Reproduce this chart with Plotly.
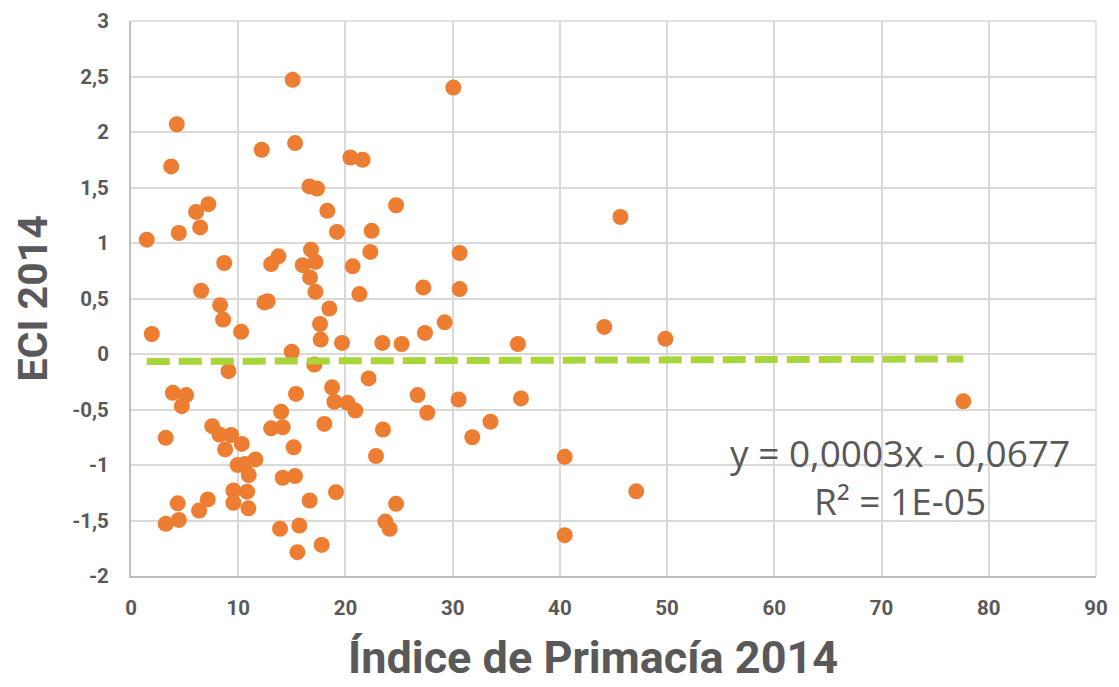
import plotly.graph_objects as go

# Índice de Primacía 2014 (x) vs ECI 2014 (y)
primacia = [15.08, 4.27, 3.75, 12.19, 15.3, 20.46, 21.6, 16.64, 17.35, 18.31,
            7.22, 6.07, 6.45, 4.46, 1.47, 19.21, 22.44, 16.79, 22.32, 13.75,
            13.07, 8.69, 16.01, 17.2, 16.7, 20.67, 6.54, 17.2, 21.3, 12.44,
            12.75, 8.31, 18.5, 8.59, 17.63, 1.94, 10.27, 17.69, 19.68, 23.44,
            25.24, 14.99, 30.06, 24.72, 30.65, 30.65, 27.26, 29.25, 27.42, 36.08,
            9.09, 17.1, 3.9, 5.14, 4.74, 15.39, 18.75, 18.97, 20.2, 20.92,
            22.16, 14.0, 13.07, 14.15, 7.57, 8.25, 9.34, 3.24, 8.78, 10.33,
            18.03, 15.17, 9.95, 10.64, 11.6, 10.98, 14.15, 15.3, 19.12, 16.66,
            9.55, 10.83, 9.55, 10.95, 4.36, 7.16, 6.35, 4.46, 3.24, 13.9,
            15.7, 15.52, 17.78, 22.85, 26.73, 27.63, 30.55, 36.37, 33.53, 31.83,
            23.5, 24.72, 23.72, 24.12, 45.65, 44.14, 49.84, 40.45, 47.12, 40.45,
            77.63]
eci = [2.47, 2.07, 1.69, 1.84, 1.90, 1.77, 1.75, 1.51, 1.49, 1.29,
       1.35, 1.28, 1.14, 1.09, 1.03, 1.10, 1.11, 0.94, 0.92, 0.88,
       0.81, 0.82, 0.80, 0.83, 0.69, 0.79, 0.57, 0.56, 0.54, 0.465,
       0.475, 0.44, 0.41, 0.31, 0.27, 0.18, 0.20, 0.13, 0.10, 0.10,
       0.09, 0.02, 2.40, 1.34, 0.91, 0.585, 0.60, 0.285, 0.19, 0.09,
       -0.155, -0.095, -0.35, -0.37, -0.47, -0.36, -0.30, -0.43, -0.44, -0.51,
       -0.22, -0.52, -0.67, -0.66, -0.65, -0.725, -0.73, -0.755, -0.86, -0.81,
       -0.63, -0.84, -1.0, -0.99, -0.95, -1.09, -1.115, -1.10, -1.245, -1.32,
       -1.23, -1.24, -1.34, -1.39, -1.345, -1.31, -1.41, -1.495, -1.53, -1.575,
       -1.545, -1.785, -1.72, -0.92, -0.37, -0.53, -0.41, -0.40, -0.61, -0.75,
       -0.68, -1.35, -1.51, -1.575, 1.234, 0.244, 0.137, -0.926, -1.237, -1.632,
       -0.426]

# trendline as stated on the chart
slope = 0.0003
intercept = -0.0677
eq_text = "y = 0,0003x - 0,0677<br>R² = 1E-05"

x_ticks = [0, 10, 20, 30, 40, 50, 60, 70, 80, 90]
x_tick_text = ["0", "10", "20", "30", "40", "50", "60", "70", "80", "90"]
y_ticks = [-2, -1.5, -1, -0.5, 0, 0.5, 1, 1.5, 2, 2.5, 3]
y_tick_text = ["-2", "-1,5", "-1", "-0,5", "0", "0,5", "1", "1,5", "2", "2,5", "3"]

x_title = "Índice de Primacía 2014"
y_title = "ECI 2014"

GRAY = "#595959"
GRID = "#D9D9D9"

trend_x = [min(primacia), max(primacia)]
trend_y = [slope * v + intercept for v in trend_x]

fig = go.Figure()
fig.add_trace(go.Scatter(
    x=primacia, y=eci, mode="markers",
    marker=dict(color="#ED7D31", size=16, line=dict(width=0)),
    showlegend=False, hoverinfo="x+y"))
fig.add_trace(go.Scatter(
    x=trend_x, y=trend_y, mode="lines",
    line=dict(color="#A9D43A", width=7, dash="23px,9px"),
    showlegend=False, hoverinfo="skip"))

eq_font = dict(family="Open Sans", size=37, color=GRAY)
fig.add_annotation(x=71.7, y=-1.103, xref="x", yref="y", text=eq_text,
                   showarrow=False, font=eq_font, align="center")

title_font_x = dict(family="Roboto", size=45, color=GRAY, weight="bold")
title_font_y = dict(family="Roboto", size=41, color=GRAY, weight="bold")
fig.add_annotation(x=0.4788, y=-0.147, xref="paper", yref="paper",
                   text=x_title, showarrow=False, font=title_font_x,
                   xanchor="center", yanchor="middle", borderpad=0)
fig.add_annotation(x=-0.1016, y=0.5, xref="paper", yref="paper",
                   text=y_title, showarrow=False, font=title_font_y,
                   textangle=-90, xanchor="center", yanchor="middle")

# top and right frame of the plot area (light gridline colour)
fig.add_shape(type="line", xref="paper", yref="paper", x0=0, x1=1, y0=1, y1=1,
              line=dict(color=GRID, width=1.5), layer="below")
fig.add_shape(type="line", xref="paper", yref="paper", x0=1, x1=1, y0=0, y1=1,
              line=dict(color=GRID, width=1.5), layer="below")

fig.update_layout(
    width=1103, height=690,
    margin=dict(l=123, r=15, t=13, b=122),
    plot_bgcolor="white", paper_bgcolor="white",
    font=dict(family="Open Sans", color=GRAY),
)
tick_font = dict(family="Roboto", size=20.5, color=GRAY, weight="bold")
fig.update_xaxes(
    range=[0, 90], tickvals=x_ticks, ticktext=x_tick_text,
    showgrid=True, gridcolor=GRID, gridwidth=1.5,
    showline=True, linecolor="#BFBFBF", linewidth=2,
    zeroline=False, ticks="", ticklabelstandoff=12,
    tickfont=tick_font, automargin=False, ticklabeloverflow="allow",
)
fig.update_yaxes(
    range=[-2, 3], tickvals=y_ticks, ticktext=y_tick_text,
    showgrid=True, gridcolor=GRID, gridwidth=1.5,
    showline=True, linecolor="#BFBFBF", linewidth=2,
    zeroline=False, ticks="", ticklabelstandoff=16,
    tickfont=tick_font, automargin=False, ticklabeloverflow="allow",
)

fig.write_html("out.html")
